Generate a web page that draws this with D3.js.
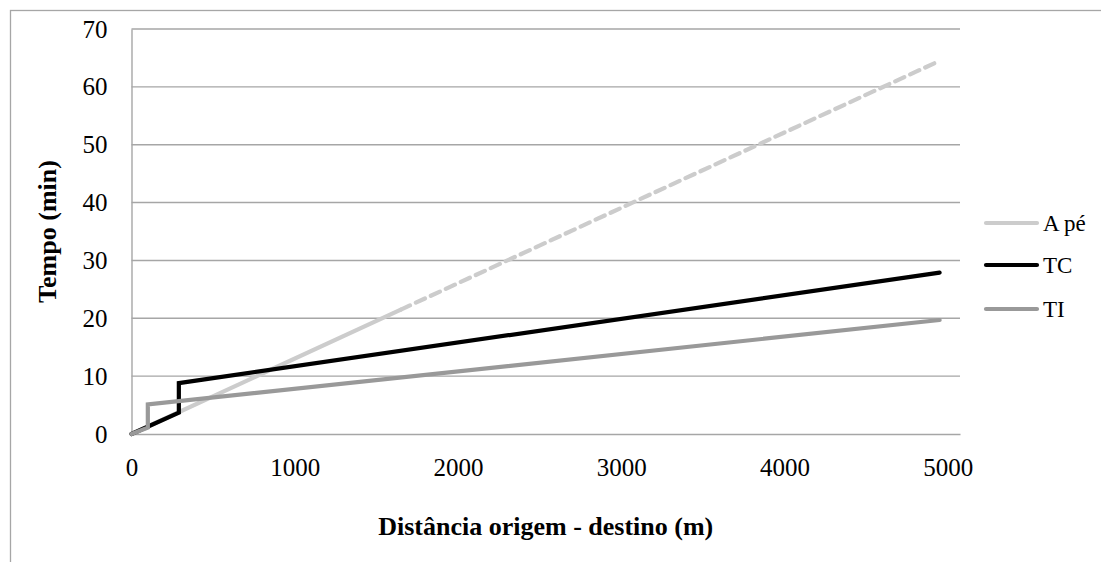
<!DOCTYPE html>
<html>
<head>
<meta charset="utf-8">
<script src="https://cdn.jsdelivr.net/npm/d3@7"></script>
<style>
  html, body { margin: 0; padding: 0; background: #fff; }
  svg { display: block; font-family: "Liberation Serif", "Times New Roman", serif; }
</style>
</head>
<body>
<svg id="chart" width="1101" height="562"></svg>
<script>
// Travel time by mode versus origin-destination distance
const seriesNames = ["A pé", "TC", "TI"];
const seriesColors = ["#cccccc", "#000000", "#999999"];

// A pé (walking): solid part, then dashed continuation
const walkDistSolid = [0, 1650];
const walkTimeSolid = [0, 21.5];
const walkDistDashed = [1650, 4950];
const walkTimeDashed = [21.5, 64.5];

// TC (public transport)
const tcDist = [0, 290, 290, 4950];
const tcTime = [0, 3.7, 8.8, 27.9];

// TI (private transport)
const tiDist = [0, 100, 100, 4950];
const tiTime = [0, 1.1, 5.1, 19.7];

const xTicks = [0, 1000, 2000, 3000, 4000, 5000];
const yTicks = [0, 10, 20, 30, 40, 50, 60, 70];
const xTitle = "Distância origem - destino (m)";
const yTitle = "Tempo (min)";

const svg = d3.select("#chart");
const plot = { left: 131.5, right: 960, top: 29, bottom: 434 };
const gridColor = "#a6a6a6";

const x = d3.scaleLinear().domain([0, 5075]).range([plot.left, plot.right]);
const y = d3.scaleLinear().domain([0, 70]).range([plot.bottom, plot.top]);

// outer chart border
svg.append("rect")
  .attr("x", 10.5).attr("y", 10.5)
  .attr("width", 1100).attr("height", 560)
  .attr("fill", "none").attr("stroke", gridColor).attr("stroke-width", 1.3);

// horizontal gridlines
svg.append("g")
  .selectAll("line")
  .data(yTicks.slice(1))
  .join("line")
  .attr("x1", plot.left).attr("x2", plot.right)
  .attr("y1", d => y(d)).attr("y2", d => y(d))
  .attr("stroke", gridColor).attr("stroke-width", 1.4);

// axes
const yAxis = d3.axisLeft(y).tickValues(yTicks).tickFormat(d3.format("d")).tickSize(0).tickPadding(24);
const gy = svg.append("g").attr("transform", `translate(${plot.left},0)`).call(yAxis);
gy.select(".domain").attr("stroke", gridColor).attr("stroke-width", 1.4);
gy.selectAll("text").attr("font-size", 25).attr("font-family", "Liberation Serif").attr("fill", "#000");

const xAxis = d3.axisBottom(x).tickValues(xTicks).tickFormat(d3.format("d")).tickSize(0).tickPadding(24);
const gx = svg.append("g").attr("transform", `translate(0,${plot.bottom})`).call(xAxis);
gx.select(".domain").attr("stroke", gridColor).attr("stroke-width", 1.4);
gx.selectAll("text").attr("font-size", 25).attr("font-family", "Liberation Serif").attr("fill", "#000");

// series lines
const line = d3.line().x(d => x(d[0])).y(d => y(d[1]));
const zip = (a, b) => a.map((v, i) => [v, b[i]]);

const lines = [
  { pts: zip(walkDistSolid, walkTimeSolid), color: seriesColors[0], dash: null },
  { pts: zip(walkDistDashed, walkTimeDashed), color: seriesColors[0], dash: "10,6.5" },
  { pts: zip(tcDist, tcTime), color: seriesColors[1], dash: null },
  { pts: zip(tiDist, tiTime), color: seriesColors[2], dash: null }
];

svg.append("g")
  .selectAll("path")
  .data(lines)
  .join("path")
  .attr("d", d => line(d.pts))
  .attr("fill", "none")
  .attr("stroke", d => d.color)
  .attr("stroke-width", 4.2)
  .attr("stroke-linejoin", "miter")
  .attr("stroke-linecap", "round")
  .attr("stroke-dasharray", d => d.dash);

// axis titles
svg.append("text")
  .attr("x", (plot.left + plot.right) / 2).attr("y", 535)
  .attr("text-anchor", "middle")
  .attr("font-size", 26).attr("font-weight", "bold")
  .text(xTitle);

svg.append("text")
  .attr("transform", `translate(56,${(plot.top + plot.bottom) / 2}) rotate(-90)`)
  .attr("text-anchor", "middle")
  .attr("font-size", 26).attr("font-weight", "bold")
  .text(yTitle);

// legend
const legendY = [223, 265, 309];
const lg = svg.append("g")
  .selectAll("g")
  .data(seriesNames)
  .join("g")
  .attr("transform", (d, i) => `translate(0,${legendY[i]})`);
lg.append("line")
  .attr("x1", 986).attr("x2", 1037)
  .attr("stroke", (d, i) => seriesColors[i])
  .attr("stroke-width", 4.2).attr("stroke-linecap", "round");
lg.append("text")
  .attr("x", 1043).attr("y", 0).attr("dy", "0.35em")
  .attr("font-size", 23)
  .text(d => d);
</script>
</body>
</html>
